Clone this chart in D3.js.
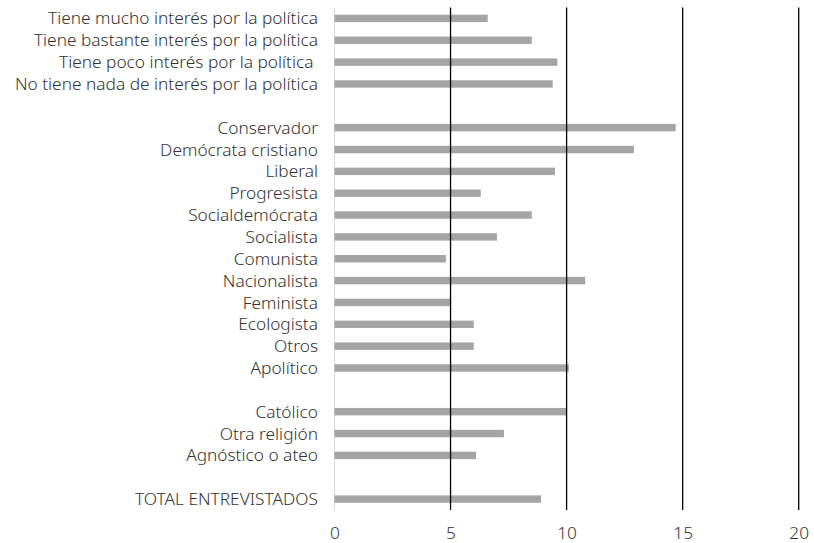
<!DOCTYPE html>
<html>
<head>
<meta charset="utf-8">
<script src="https://cdn.jsdelivr.net/npm/d3@7"></script>
<style>
  html, body { margin: 0; padding: 0; background: #fff; }
  svg { display: block; }
  text { font-family: "Noto Sans", "Open Sans", sans-serif; font-weight: 300; fill: #333333; white-space: pre; }
</style>
</head>
<body>
<svg id="chart" width="814" height="543"></svg>
<script>
// Row labels top to bottom; empty strings are spacer rows between groups
const categories = [
  "Tiene mucho interés por la política",
  "Tiene bastante interés por la política",
  "Tiene poco interés por la política ",
  "No tiene nada de interés por la política",
  "",
  "Conservador",
  "Demócrata cristiano",
  "Liberal",
  "Progresista",
  "Socialdemócrata",
  "Socialista",
  "Comunista",
  "Nacionalista",
  "Feminista",
  "Ecologista",
  "Otros",
  "Apolítico",
  "",
  "Católico",
  "Otra religión",
  "Agnóstico o ateo",
  "",
  "TOTAL ENTREVISTADOS"
];

// Bar values (null for spacer rows)
const values = [
  6.6, 8.5, 9.6, 9.4,
  null,
  14.7, 12.9, 9.5, 6.3, 8.5, 7.0, 4.8, 10.8, 5.0, 6.0, 6.0, 10.1,
  null,
  10.0, 7.3, 6.1,
  null,
  8.9
];

const xTicks = [0, 5, 10, 15, 20];

const rows = categories.map((c, i) => ({ key: "r" + i, label: c, value: values[i] }));

const svg = d3.select("#chart");
const plotLeft = 334.5, plotRight = 798.7, plotTop = 7.5, plotBottom = 510;
const labelSize = 17.3;

const x = d3.scaleLinear().domain([0, 20]).range([plotLeft, plotRight]);
const y = d3.scaleBand()
  .domain(rows.map(d => d.key))
  .range([plotTop, plotBottom])
  .paddingInner(0.66)
  .paddingOuter(0.33);

// Zero baseline
svg.append("line")
  .attr("x1", x(0)).attr("x2", x(0))
  .attr("y1", plotTop).attr("y2", plotBottom)
  .attr("stroke", "#d9d9d9").attr("stroke-width", 1);

// Bars
svg.append("g").selectAll("rect")
  .data(rows.filter(d => d.value != null))
  .join("rect")
  .attr("x", x(0))
  .attr("y", d => y(d.key))
  .attr("width", d => x(d.value) - x(0))
  .attr("height", y.bandwidth())
  .attr("fill", "#a5a5a5");

// Vertical gridlines drawn over the bars
svg.append("g").selectAll("line")
  .data(xTicks.filter(t => t > 0))
  .join("line")
  .attr("x1", d => x(d)).attr("x2", d => x(d))
  .attr("y1", plotTop).attr("y2", plotBottom)
  .attr("stroke", "#000").attr("stroke-width", 1.3);

// X tick labels
const xAxis = d3.axisBottom(x).tickValues(xTicks).tickSize(0).tickPadding(0);
const gx = svg.append("g").attr("transform", `translate(0,${plotBottom + 23})`).call(xAxis);
gx.select(".domain").remove();
gx.selectAll("text")
  .attr("font-size", labelSize)
  .attr("dy", "0.35em")
  .style("font-family", '"Noto Sans", "Open Sans", sans-serif')
  .style("font-weight", 300)
  .style("fill", "#333333");

// Category labels
svg.append("g").selectAll("text")
  .data(rows.filter(d => d.label !== ""))
  .join("text")
  .attr("x", 318)
  .attr("y", d => y(d.key) + y.bandwidth() / 2)
  .attr("dy", "0.35em")
  .attr("text-anchor", "end")
  .attr("font-size", labelSize)
  .text(d => d.label);
</script>
</body>
</html>
